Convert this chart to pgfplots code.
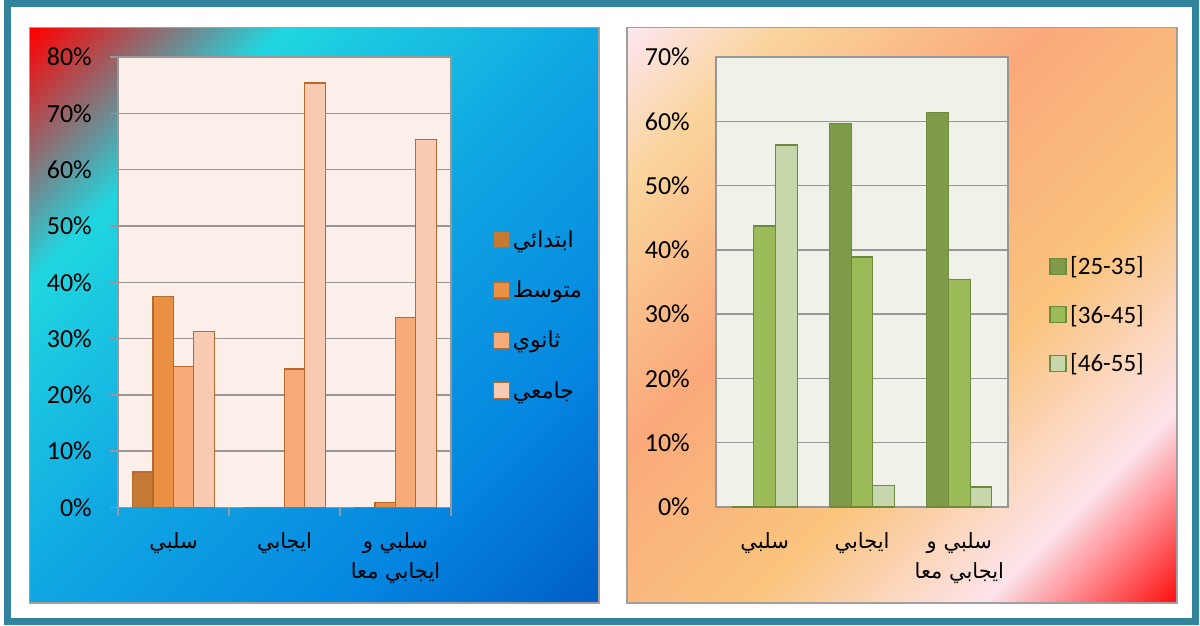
\documentclass[border=0pt]{standalone}
\usepackage{fontspec}
\setmainfont{Carlito}
\newfontfamily\arabicfont[Script=Arabic]{DejaVu Sans}
\usepackage{pgfplots}
\pgfplotsset{compat=1.18}
\TeXXeTstate=1

\definecolor{frameteal}{HTML}{31849B}
\definecolor{panelgray}{HTML}{A0A0A0}
\definecolor{gridgray}{HTML}{979797}
\definecolor{lplotbg}{HTML}{FCEFEA}
\definecolor{rplotbg}{HTML}{F0F2E9}
% left panel gradient
\definecolor{lbA}{HTML}{FF0000}
\definecolor{lbB}{HTML}{20D6E0}
\definecolor{lbC}{HTML}{10A6E2}
\definecolor{lbD}{HTML}{0586E0}
\definecolor{lbE}{HTML}{005EC6}
% right panel gradient
\definecolor{rbA}{HTML}{FDE6F0}
\definecolor{rbB}{HTML}{FAD49C}
\definecolor{rbC}{HTML}{FAA97A}
\definecolor{rbD}{HTML}{FAC47E}
\definecolor{rbE}{HTML}{FDE4EC}
\definecolor{rbF}{HTML}{FF1010}
% bar colours
\definecolor{oA}{HTML}{C47A35}
\definecolor{oB}{HTML}{E99043}
\definecolor{oC}{HTML}{F6AA78}
\definecolor{oD}{HTML}{F8CAB2}
\definecolor{oEdge}{HTML}{B8692E}
\definecolor{gA}{HTML}{7F9A48}
\definecolor{gB}{HTML}{9BBB59}
\definecolor{gC}{HTML}{C6D7AC}
\definecolor{gEdge}{HTML}{6E8B3D}

\pgfdeclarehorizontalshading{leftbg}{100bp}{color(0bp)=(lbA); color(14.64bp)=(lbA); color(30.2bp)=(lbB); color(50bp)=(lbC); color(69.8bp)=(lbD); color(85.36bp)=(lbE); color(100bp)=(lbE)}
\pgfdeclarehorizontalshading{rightbg}{100bp}{color(0bp)=(rbA); color(14.64bp)=(rbA); color(24.5bp)=(rbB); color(40.8bp)=(rbC); color(58.5bp)=(rbD); color(73.3bp)=(rbE); color(85.36bp)=(rbF); color(100bp)=(rbF)}

\pgfplotsset{
  common/.style={
    scale only axis,
    xmin=-0.5, xmax=2.5, ymin=0,
    ybar=0pt,
    xtick={0,1,2},
    xticklabels={{\beginR سلبي\endR},{\beginR ايجابي\endR},{\beginR سلبي و\endR\\\beginR ايجابي معا\endR}},
    xticklabel style={font=\arabicfont\fontsize{21}{30}\selectfont, align=center, yshift=-14pt},
    yticklabel={\pgfmathprintnumber{\tick}\%},
    /pgf/number format/assume math mode=true,
    yticklabel style={font=\fontsize{26}{30}\selectfont, inner sep=0pt, xshift=-18pt},
    tick align=outside,
    tick pos=left,
    major tick length=8pt,
    minor tick length=8pt,
    ymajorgrids,
    major grid style={draw=gridgray, line width=1.5pt},
    axis line style={draw=gridgray, line width=1.5pt},
    xtick style={draw=none},
    legend cell align=left,
    legend image code/.code={\draw[##1,line width=1.2pt] (0pt,-8pt) rectangle (16pt,8pt);},
  }
}

\begin{document}
\begin{tikzpicture}[x=1pt,y=1pt]
\path[use as bounding box] (0,0) rectangle (1200,625);
\fill[white] (0,0) rectangle (1200,625);
\draw[frameteal, line width=7pt] (7,3.5) rectangle (1195.5,621.5);
% panels
\shade[shading=leftbg, shading angle=-45] (29.5,22) rectangle (599,597.5);
\draw[panelgray, line width=1.5pt] (29.5,22) rectangle (599,597.5);
\shade[shading=rightbg, shading angle=-45] (627,22) rectangle (1177,597.5);
\draw[panelgray, line width=1.5pt] (627,22) rectangle (1177,597.5);

\begin{axis}[common,
  at={(118pt,117.5pt)}, anchor=south west,
  width=333pt, height=450.5pt,
  ymax=80, ytick={0,10,...,80},
  bar width=20.4pt,
  minor xtick={-0.5,0.5,1.5,2.5},
  minor x tick style={draw=gridgray, line width=1.5pt},
  ytick style={draw=gridgray, line width=1.5pt},
  axis background/.style={fill=lplotbg},
  legend style={at={(1.117,0.427)}, anchor=west, draw=none, fill=none,
    font=\arabicfont\fontsize{22}{26}\selectfont, row sep=27pt,
    nodes={inner sep=2.5pt}},
]
\addplot[fill=oA, draw=oEdge, line width=1.2pt] coordinates {(0,6.3) (1,0) (2,0)};
\addplot[fill=oB, draw=oEdge, line width=1.2pt] coordinates {(0,37.5) (1,0) (2,0.9)};
\addplot[fill=oC, draw=oEdge, line width=1.2pt] coordinates {(0,25.0) (1,24.6) (2,33.8)};
\addplot[fill=oD, draw=oEdge, line width=1.2pt] coordinates {(0,31.2) (1,75.4) (2,65.3)};
\addlegendentry{\beginR ابتدائي\endR}
\addlegendentry{\beginR متوسط\endR}
\addlegendentry{\beginR ثانوي\endR}
\addlegendentry{\beginR جامعي\endR}
\end{axis}

\begin{axis}[common,
  at={(716pt,118pt)}, anchor=south west,
  width=292pt, height=450pt,
  ymax=70, ytick={0,10,...,70},
  bar width=21.7pt,
  ytick style={draw=none},
  axis background/.style={fill=rplotbg},
  legend style={at={(1.131,0.427)}, anchor=west, draw=none, fill=none,
    font=\fontsize{25}{28}\selectfont, row sep=22pt,
    nodes={inner sep=3.5pt}},
]
\addplot[fill=gA, draw=gEdge, line width=1.2pt] coordinates {(0,0) (1,59.7) (2,61.4)};
\addplot[fill=gB, draw=gEdge, line width=1.2pt] coordinates {(0,43.7) (1,38.9) (2,35.4)};
\addplot[fill=gC, draw=gEdge, line width=1.2pt] coordinates {(0,56.3) (1,3.4) (2,3.1)};
\addlegendentry{[25-35]}
\addlegendentry{[36-45]}
\addlegendentry{[46-55]}
\end{axis}
\end{tikzpicture}
\end{document}
